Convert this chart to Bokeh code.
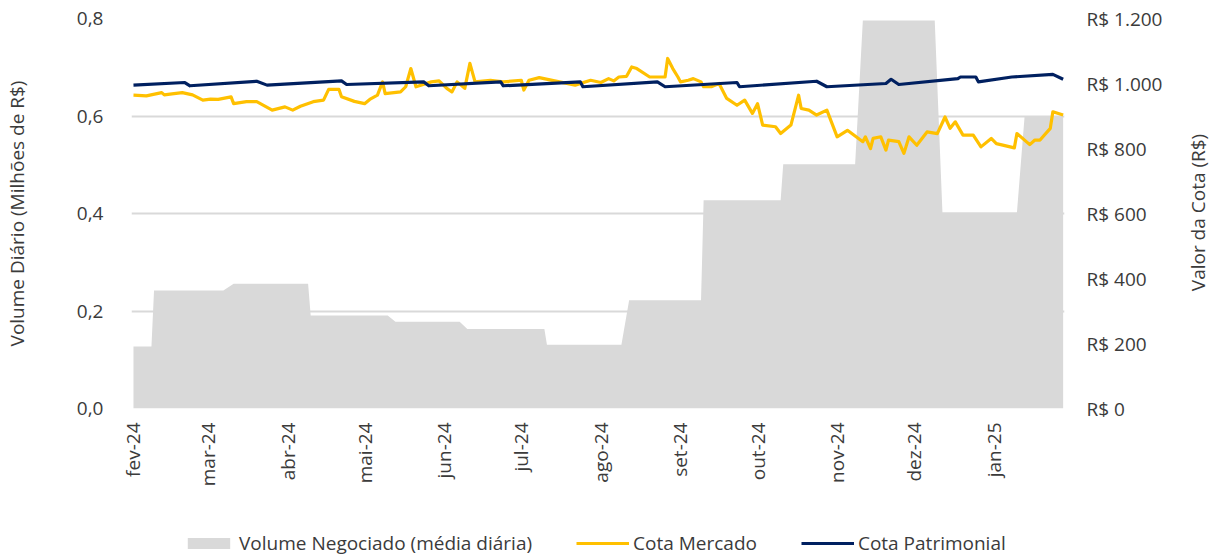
import math
import pandas as pd
from bokeh.plotting import figure
from bokeh.layouts import column, row
from bokeh.models import (Range1d, LinearAxis, FixedTicker, CustomJSTickFormatter,
                          Legend, LegendItem, ColumnDataSource)
from bokeh.core.properties import value
from bokeh.embed import file_html
from bokeh.resources import INLINE

# ---------------- data ----------------
vol_dates = ["2024-02-01", "2024-02-08", "2024-02-09", "2024-03-07", "2024-03-11", "2024-04-09",
             "2024-04-10", "2024-05-10", "2024-05-13", "2024-06-07", "2024-06-10", "2024-07-10",
             "2024-07-11", "2024-08-09", "2024-08-12", "2024-09-09", "2024-09-10", "2024-10-10",
             "2024-10-11", "2024-11-08", "2024-11-11", "2024-12-09", "2024-12-12", "2025-01-10",
             "2025-01-13", "2025-01-28"]
vol_values = [0.127, 0.127, 0.242, 0.242, 0.256, 0.256, 0.191, 0.191, 0.178, 0.178, 0.163, 0.163,
              0.131, 0.131, 0.222, 0.222, 0.427, 0.427, 0.501, 0.501, 0.796, 0.796, 0.402, 0.402,
              0.600, 0.600]

mkt_dates = ["2024-02-01", "2024-02-06", "2024-02-12", "2024-02-13", "2024-02-16", "2024-02-20", "2024-02-24", "2024-02-28",
             "2024-03-02", "2024-03-05", "2024-03-10", "2024-03-11", "2024-03-16", "2024-03-20", "2024-03-26", "2024-03-31",
             "2024-04-03", "2024-04-06", "2024-04-11", "2024-04-15", "2024-04-17", "2024-04-21", "2024-04-22", "2024-04-27",
             "2024-05-01", "2024-05-03", "2024-05-06", "2024-05-08", "2024-05-09", "2024-05-15", "2024-05-17", "2024-05-19",
             "2024-05-21", "2024-05-27", "2024-05-30",
             "2024-06-02", "2024-06-04", "2024-06-06", "2024-06-09", "2024-06-11", "2024-06-13", "2024-06-19", "2024-06-24",
             "2024-07-01", "2024-07-02", "2024-07-04", "2024-07-08", "2024-07-14", "2024-07-22", "2024-07-28",
             "2024-08-01", "2024-08-04", "2024-08-06", "2024-08-08", "2024-08-11", "2024-08-13", "2024-08-15", "2024-08-20",
             "2024-08-26", "2024-08-27", "2024-08-29", "2024-08-31",
             "2024-09-01", "2024-09-04", "2024-09-06", "2024-09-09", "2024-09-10", "2024-09-13", "2024-09-16", "2024-09-19",
             "2024-09-23", "2024-09-26", "2024-09-29",
             "2024-10-01", "2024-10-03", "2024-10-08", "2024-10-10", "2024-10-14", "2024-10-17", "2024-10-18", "2024-10-21",
             "2024-10-24", "2024-10-28",
             "2024-11-01", "2024-11-05", "2024-11-11", "2024-11-12", "2024-11-14", "2024-11-15", "2024-11-18", "2024-11-20",
             "2024-11-21", "2024-11-25", "2024-11-27", "2024-11-29",
             "2024-12-02", "2024-12-06", "2024-12-10", "2024-12-13", "2024-12-15", "2024-12-17", "2024-12-20", "2024-12-24",
             "2024-12-27", "2024-12-31",
             "2025-01-02", "2025-01-09", "2025-01-10", "2025-01-15", "2025-01-17", "2025-01-19", "2025-01-23", "2025-01-24",
             "2025-01-28"]
mkt_values = [964, 962, 972, 965, 968, 972, 965, 949,
              952, 951, 959, 938, 944, 944, 918, 928,
              918, 930, 944, 949, 982, 982, 959, 945,
              938, 951, 964, 1005, 969, 974, 990, 1046, 990, 1005, 1008,
              985, 974, 1005, 985, 1062, 1005, 1010, 1005,
              1010, 980, 1010, 1018, 1008, 995, 1010,
              1003, 1015, 1008, 1020, 1022, 1051, 1046, 1020, 1020, 1077, 1046, 1020,
              1005, 1010, 1015, 1005, 990, 990, 1000, 954, 933, 949, 908,
              938, 872, 867, 846, 872, 964, 923, 918, 903, 918,
              836, 856, 821, 836, 800, 831, 836, 795, 826, 821, 785, 836,
              810, 851, 846, 897, 862, 882, 841, 841, 805, 831,
              815, 802, 846, 812, 826, 826, 862, 913, 903]

nav_dates = ["2024-02-01", "2024-02-21", "2024-02-23", "2024-03-20", "2024-03-24", "2024-04-22", "2024-04-24",
             "2024-05-24", "2024-05-26", "2024-06-23", "2024-06-24", "2024-07-24", "2024-07-25", "2024-08-23",
             "2024-08-26", "2024-09-23", "2024-09-24", "2024-10-24", "2024-10-28", "2024-11-20", "2024-11-22",
             "2024-11-25", "2024-12-18", "2024-12-19", "2024-12-25", "2024-12-26", "2025-01-08", "2025-01-24",
             "2025-01-28"]
nav_values = [995, 1003, 993, 1007, 995, 1008, 997, 1005, 993, 1005, 993, 1005, 990, 1005, 990, 1003, 990,
              1007, 990, 1000, 1013, 997, 1015, 1020, 1020, 1005, 1020, 1028, 1013]

month_ticks = ["2024-02-01", "2024-03-01", "2024-04-01", "2024-05-01", "2024-06-01", "2024-07-01",
               "2024-08-01", "2024-09-01", "2024-10-01", "2024-11-01", "2024-12-01", "2025-01-01"]
month_labels = ["fev-24", "mar-24", "abr-24", "mai-24", "jun-24", "jul-24", "ago-24", "set-24",
                "out-24", "nov-24", "dez-24", "jan-25"]
left_ticks = [0.0, 0.2, 0.4, 0.6, 0.8]
left_labels = ["0,0", "0,2", "0,4", "0,6", "0,8"]
right_ticks = [0, 200, 400, 600, 800, 1000, 1200]
right_labels = ["R$ 0", "R$ 200", "R$ 400", "R$ 600", "R$ 800", "R$ 1.000", "R$ 1.200"]
series_names = ["Volume Negociado (média diária)", "Cota Mercado", "Cota Patrimonial"]
left_title = "Volume Diário (Milhões de R$)"
right_title = "Valor da Cota (R$)"

assert len(mkt_dates) == len(mkt_values)
assert len(nav_dates) == len(nav_values)
assert len(vol_dates) == len(vol_values)

# ---------------- styles ----------------
FONT = "Open Sans"
FS = "19px"
TXT = "#3b3b3b"
GRID = "#d9d9d9"
AREA = "#d9d9d9"
YEL = "#FFC000"
NAVY = "#002060"

MAIN_W, MAIN_H = 1178, 526
B_LEFT, B_RIGHT, B_TOP, B_BOTTOM = 125, 114, 18, 118
TITLE_W = 34
LEG_H = 30


def to_ms(seq):
    s = pd.to_datetime(pd.Series(seq))
    return [float(v) for v in (s - pd.Timestamp("1970-01-01")) // pd.Timedelta(milliseconds=1)]


def idx_formatter(tick_list, label_list):
    return CustomJSTickFormatter(args=dict(tks=list(tick_list), lbls=list(label_list)), code="""
        let best = -1, bd = Infinity;
        for (let i = 0; i < tks.length; i++) {
            const d = Math.abs(tks[i] - tick);
            if (d < bd) { bd = d; best = i; }
        }
        const span = Math.abs(tks[tks.length - 1] - tks[0]) || 1;
        return (best >= 0 && bd < span * 1e-6 + 1e-9) ? lbls[best] : "";
    """)


vol_src = ColumnDataSource(dict(x=pd.to_datetime(vol_dates), y=vol_values))
mkt_src = ColumnDataSource(dict(x=pd.to_datetime(mkt_dates), y=mkt_values))
nav_src = ColumnDataSource(dict(x=pd.to_datetime(nav_dates), y=nav_values))

p = figure(width=MAIN_W, height=MAIN_H, x_axis_type="datetime",
           x_range=Range1d(pd.Timestamp("2024-01-31 05:30"), pd.Timestamp("2025-01-28 12:40")),
           y_range=Range1d(0, 0.8),
           output_backend="svg", toolbar_location=None,
           min_border_left=B_LEFT, min_border_right=B_RIGHT,
           min_border_top=B_TOP, min_border_bottom=B_BOTTOM)
p.extra_y_ranges = {"right": Range1d(0, 1200)}
p.outline_line_color = None
p.background_fill_color = "white"
p.border_fill_color = "white"

area = p.varea(x="x", y1=0, y2="y", source=vol_src, fill_color=AREA)
yl = p.line(x="x", y="y", source=mkt_src, line_color=YEL, line_width=3.2,
            y_range_name="right", line_join="round")
nl = p.line(x="x", y="y", source=nav_src, line_color=NAVY, line_width=3.2,
            y_range_name="right", line_join="round")

# grid
p.xgrid.grid_line_color = None
p.ygrid.grid_line_color = GRID
p.ygrid.grid_line_width = 2
p.ygrid.ticker = FixedTicker(ticks=left_ticks)

# x axis
xa = p.xaxis[0]
xa.ticker = FixedTicker(ticks=to_ms(month_ticks))
xa.formatter = idx_formatter(to_ms(month_ticks), month_labels)
xa.major_label_orientation = math.pi / 2
xa.major_label_standoff = 14

# left axis
ya = p.yaxis[0]
ya.ticker = FixedTicker(ticks=left_ticks)
ya.formatter = idx_formatter(left_ticks, left_labels)
ya.axis_label = left_title
ya.axis_label_standoff = 44
ya.major_label_standoff = 28

# right axis (ticks only; its title is drawn in the narrow strip to the right)
ra = LinearAxis(y_range_name="right", ticker=FixedTicker(ticks=right_ticks),
                formatter=idx_formatter(right_ticks, right_labels))
ra.major_label_standoff = 22
p.add_layout(ra, "right")

for ax in (xa, ya, ra):
    ax.major_tick_out = 0
    ax.major_tick_in = 0
    ax.minor_tick_out = 0
    ax.minor_tick_in = 0
    ax.major_tick_line_color = None
    ax.minor_tick_line_color = None
    ax.axis_line_color = None
    ax.major_label_text_font = FONT
    ax.major_label_text_font_size = FS
    ax.major_label_text_color = TXT
    ax.axis_label_text_font = FONT
    ax.axis_label_text_font_size = FS
    ax.axis_label_text_color = TXT
    ax.axis_label_text_font_style = "normal"

# ---------------- right title strip ----------------
tf = figure(width=TITLE_W, height=MAIN_H, x_range=Range1d(0, TITLE_W),
            y_range=Range1d(0, MAIN_H - B_TOP - B_BOTTOM),
            output_backend="svg", toolbar_location=None,
            x_axis_location=None, y_axis_location=None,
            min_border_left=0, min_border_right=0, min_border_top=B_TOP, min_border_bottom=B_BOTTOM)
tf.outline_line_color = None
tf.xgrid.grid_line_color = None
tf.ygrid.grid_line_color = None
tf.background_fill_color = "white"
tf.border_fill_color = "white"
tf.text(x=[19], y=[196], text=[right_title], angle=math.pi / 2,
        text_align="center", text_baseline="middle",
        text_font=value(FONT), text_font_size=value(FS), text_color=TXT)

# ---------------- legend strip (separate small figure, frame aligned with p) ----------------
lf = figure(width=MAIN_W, height=LEG_H, x_range=Range1d(0, 1), y_range=Range1d(0, 1),
            output_backend="svg", toolbar_location=None,
            x_axis_location=None, y_axis_location=None,
            min_border_left=B_LEFT, min_border_right=B_RIGHT, min_border_top=0, min_border_bottom=0)
lf.outline_line_color = None
lf.xgrid.grid_line_color = None
lf.ygrid.grid_line_color = None
# legend-only proxies, placed outside the visible range
lg_area = lf.varea(x=[5, 6], y1=[5, 5], y2=[6, 6], fill_color=AREA)
lg_yel = lf.line(x=[5, 6], y=[5, 5], line_color=YEL, line_width=3.2)
lg_nav = lf.line(x=[5, 6], y=[5, 5], line_color=NAVY, line_width=3.2)
legend = Legend(items=[LegendItem(label=series_names[0], renderers=[lg_area]),
                       LegendItem(label=series_names[1], renderers=[lg_yel]),
                       LegendItem(label=series_names[2], renderers=[lg_nav])],
                orientation="horizontal", location=(51, 0),
                glyph_width=53, glyph_height=14, label_standoff=4, spacing=44,
                padding=0, margin=0, border_line_color=None, background_fill_alpha=0,
                label_text_font=FONT, label_text_font_size=FS, label_text_color=TXT)
lf.add_layout(legend)

layout = row(column(p, lf, spacing=0), tf, spacing=0)
open("out.html", "w").write(file_html(layout, INLINE))
